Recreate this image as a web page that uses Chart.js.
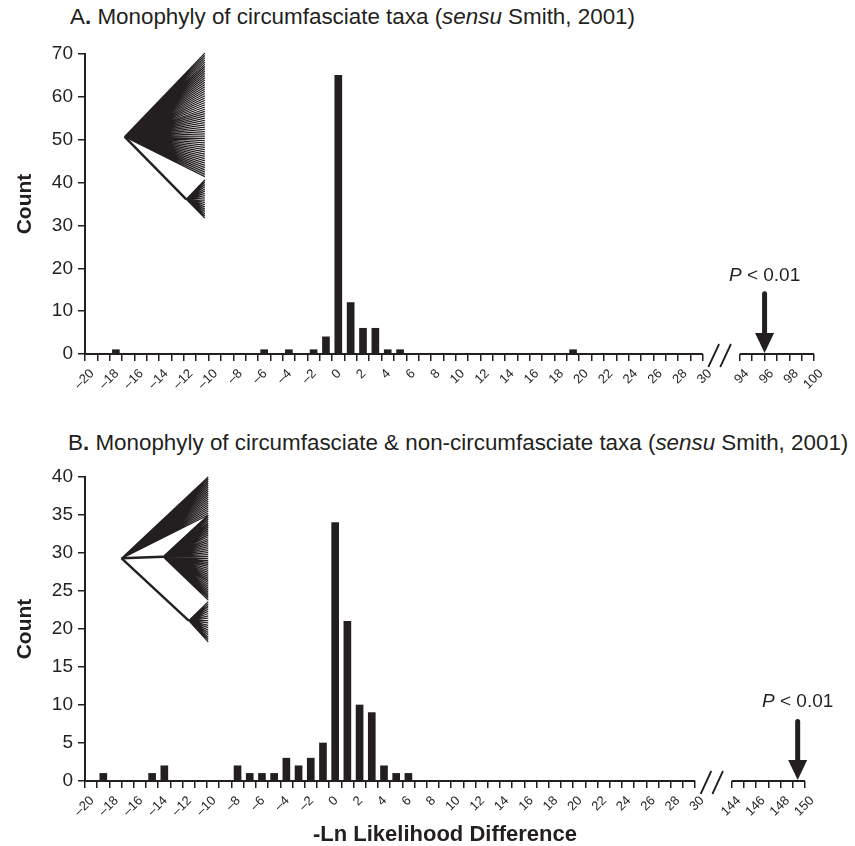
<!DOCTYPE html>
<html>
<head>
<meta charset="utf-8">
<script src="https://cdn.jsdelivr.net/npm/chart.js@4.4.0/dist/chart.umd.min.js"></script>
<style>
  html, body { margin:0; padding:0; background:#ffffff; }
  body { width:855px; height:846px; position:relative; overflow:hidden;
         font-family:"Liberation Sans", Arial, Helvetica, sans-serif; color:#231f20; }
  .title { position:absolute; font-size:22.4px; line-height:22px; white-space:nowrap; }
  canvas { position:absolute; left:0; }
  #ca { top:0; }
  #cb { top:400px; }
</style>
</head>
<body>
<div class="title" style="left:70px; top:6px;">A<b>.</b> Monophyly of circumfasciate taxa (<i>sensu</i> Smith, 2001)</div>
<div class="title" style="left:68px; top:432px;">B<b>.</b> Monophyly of circumfasciate &amp; non-circumfasciate taxa (<i>sensu</i> Smith, 2001)</div>
<canvas id="ca" width="855" height="400"></canvas>
<canvas id="cb" width="855" height="446"></canvas>
<script>
// ---------------- DATA ----------------
// Panel A: bin centres (-Ln likelihood difference) and counts
const binCentersA = [-17.5, -5.5, -3.5, -1.5, -0.5, 0.5, 1.5, 2.5, 3.5, 4.5, 5.5, 19.5];
const countsA     = [1, 1, 1, 1, 4, 65, 12, 6, 6, 1, 1, 1];
// Panel B
const binCentersB = [-18.5, -14.5, -13.5, -7.5, -6.5, -5.5, -4.5, -3.5, -2.5, -1.5, -0.5, 0.5, 1.5, 2.5, 3.5, 4.5, 5.5, 6.5];
const countsB     = [1, 1, 2, 2, 1, 1, 1, 3, 2, 3, 5, 34, 21, 10, 9, 2, 1, 1];

// Observed differences (arrows) and their label
const observedA = 96;
const observedB = 149.4;
const pLabelItalic = 'P';
const pLabelRest = ' < 0.01';

// Tick labels
const xTickLabelsMain = [-20,-18,-16,-14,-12,-10,-8,-6,-4,-2,0,2,4,6,8,10,12,14,16,18,20,22,24,26,28,30];
const xTickLabelsBreakA = [94, 96, 98, 100];
const xTickLabelsBreakB = [144, 146, 148, 150];
const yTicksA = [0, 10, 20, 30, 40, 50, 60, 70];
const yTicksB = [0, 5, 10, 15, 20, 25, 30, 35, 40];

const yTitle = 'Count';
const xTitle = '-Ln Likelihood Difference';

// ---------------- HELPERS ----------------
const INK = '#231f20';
const FONT = '"Liberation Sans", Arial, Helvetica, sans-serif';
const MAIN_MIN = -20, MAIN_MAX = 30, GAP = 3;

function toAxis(v, brk) { return v <= MAIN_MAX ? v : MAIN_MAX + GAP + (v - brk[0]); }
function fromAxis(a, brk) { return a <= MAIN_MAX ? a : a - MAIN_MAX - GAP + brk[0]; }
function fmt(v) { return v < 0 ? '\u2013' + Math.abs(v) : String(v); }

// Tree insets (schematic topologies) in data units
const treeA = { root:[-16.8, 50.7], tipX:-10.3,
  clades:[ {node:null, from:70.2, to:41.4, n:56},
           {node:[-11.8, 36.1], from:40.6, to:31.7, n:18} ] };
const treeB = { root:[-17.0, 29.3], tipX:-9.9,
  clades:[ {node:null, from:40.0, to:35.0, n:20},
           {node:[-13.6, 29.5], from:35.0, to:23.8, n:44},
           {node:[-11.5, 21.1], from:23.6, to:18.3, n:18} ] };

function makePanel(canvasId, cfg) {
  const brk = cfg.brk;
  const tickVals = [];
  for (let v = MAIN_MIN; v <= MAIN_MAX; v++) tickVals.push(v);
  for (let v = brk[0]; v <= brk[brk.length-1]; v++) tickVals.push(toAxis(v, brk));
  const labelSet = new Set(xTickLabelsMain.concat(brk));

  const decor = {
    id: 'decor_' + canvasId,
    afterDatasetsDraw(chart) {
      const ctx = chart.ctx, x = chart.scales.x, y = chart.scales.y;
      const y0 = y.getPixelForValue(0);
      ctx.save();
      // tree inset
      const t = cfg.tree;
      const px = (v) => x.getPixelForValue(v), py = (v) => y.getPixelForValue(v);
      const tipX = px(t.tipX);
      ctx.strokeStyle = INK;
      t.clades.forEach(c => {
        const base = c.node ? c.node : t.root;
        if (c.node) {
          ctx.lineWidth = 2.4;
          ctx.beginPath();
          ctx.moveTo(px(t.root[0]), py(t.root[1]));
          ctx.lineTo(px(c.node[0]), py(c.node[1]));
          ctx.stroke();
        }
        ctx.lineWidth = 1.3;
        ctx.beginPath();
        for (let i = 0; i < c.n; i++) {
          const ty = c.from + (c.to - c.from) * i / (c.n - 1);
          ctx.moveTo(px(base[0]), py(base[1]));
          ctx.lineTo(tipX, py(ty));
        }
        ctx.stroke();
      });
      // x axis line in two segments
      ctx.lineWidth = 2;
      ctx.lineCap = 'butt';
      ctx.beginPath();
      ctx.moveTo(px(MAIN_MIN) - 1, y0); ctx.lineTo(px(MAIN_MAX), y0);
      ctx.moveTo(px(toAxis(brk[0], brk)), y0); ctx.lineTo(px(toAxis(brk[brk.length-1], brk)), y0);
      ctx.stroke();
      // break marks //
      const xa = px(MAIN_MAX), xb = px(MAIN_MAX + GAP), g = xb - xa;
      ctx.lineWidth = 1.8;
      ctx.beginPath();
      ctx.moveTo(xa + 0.15*g, y0 + 13); ctx.lineTo(xa + 0.44*g, y0 - 10);
      ctx.moveTo(xa + 0.47*g, y0 + 13); ctx.lineTo(xa + 0.76*g, y0 - 10);
      ctx.stroke();
      // arrow for observed value
      const ax = px(toAxis(cfg.observed, brk));
      const aTop = py(cfg.arrowTop);
      ctx.lineWidth = 5;
      ctx.lineCap = 'round';
      ctx.beginPath();
      ctx.moveTo(ax, aTop + 2); ctx.lineTo(ax, y0 - 18);
      ctx.stroke();
      ctx.fillStyle = INK;
      ctx.beginPath();
      ctx.moveTo(ax - 9.5, y0 - 21); ctx.lineTo(ax + 9.5, y0 - 21); ctx.lineTo(ax, y0 - 1);
      ctx.closePath(); ctx.fill();
      // P label
      const ty = py(cfg.pTextY);
      ctx.textBaseline = 'alphabetic';
      ctx.textAlign = 'left';
      ctx.font = 'italic 19px ' + FONT;
      const w1 = ctx.measureText(pLabelItalic).width;
      ctx.font = '19px ' + FONT;
      const w2 = ctx.measureText(pLabelRest).width;
      const sx = ax - (w1 + w2) / 2;
      ctx.font = 'italic 19px ' + FONT;
      ctx.fillText(pLabelItalic, sx, ty);
      ctx.font = '19px ' + FONT;
      ctx.fillText(pLabelRest, sx + w1, ty);
      ctx.restore();
    }
  };

  return new Chart(document.getElementById(canvasId), {
    type: 'bar',
    data: {
      datasets: [{
        data: cfg.centers.map((c, i) => ({ x: c, y: cfg.counts[i] })),
        backgroundColor: INK,
        borderWidth: 0,
        barThickness: 7
      }]
    },
    options: {
      responsive: false,
      animation: false,
      layout: { padding: cfg.padding },
      plugins: { legend: { display:false }, tooltip: { enabled:false }, title: { display:false } },
      scales: {
        x: {
          type: 'linear',
          min: MAIN_MIN, max: toAxis(brk[brk.length-1], brk),
          offset: false,
          afterBuildTicks: (s) => { s.ticks = tickVals.map(v => ({ value: v })); },
          afterFit: (s) => { s.height = cfg.xHeight; },
          grid: { offset:false, drawOnChartArea:false, drawTicks:true, tickLength:7, color:INK, lineWidth:1.5 },
          border: { display:false },
          ticks: {
            autoSkip:false, maxRotation:45, minRotation:45,
            padding: 5, labelOffset: 7,
            color: INK, font: { size:13, family:FONT },
            callback: (val) => {
              const o = Math.round(fromAxis(val, brk));
              return labelSet.has(o) ? fmt(o) : '';
            }
          },
          title: cfg.showXTitle ? { display:true, text:xTitle, color:INK,
                   font:{ size:22, weight:'bold', family:FONT, lineHeight:1 },
                   padding:{ top:0, bottom:0 } } : { display:false }
        },
        y: {
          min: 0, max: cfg.yTicks[cfg.yTicks.length-1],
          afterBuildTicks: (s) => { s.ticks = cfg.yTicks.map(v => ({ value: v })); },
          afterFit: (s) => { s.width = 85; },
          grid: { drawOnChartArea:false, drawTicks:true, tickLength:7, color:INK, lineWidth:1.5 },
          border: { display:true, color:INK, width:2 },
          ticks: { color:INK, padding:5, font:{ size:19, family:FONT } },
          title: { display:true, text:yTitle, color:INK,
                   font:{ size:21, weight:'bold', family:FONT, lineHeight:1.2 },
                   padding:{ top:13, bottom:0 } }
        }
      }
    },
    plugins: [decor]
  });
}

makePanel('ca', {
  centers: binCentersA, counts: countsA, yTicks: yTicksA,
  brk: xTickLabelsBreakA, observed: observedA, arrowTop: 14.5, pTextY: 17.0,
  tree: treeA, padding: { top:54, right:41, bottom:0, left:0 }, xHeight: 46, showXTitle:false
});
makePanel('cb', {
  centers: binCentersB, counts: countsB, yTicks: yTicksB,
  brk: xTickLabelsBreakB, observed: observedB, arrowTop: 8.1, pTextY: 9.7,
  tree: treeB, padding: { top:77, right:50, bottom:0, left:0 }, xHeight: 65, showXTitle:true
});
</script>
</body>
</html>
